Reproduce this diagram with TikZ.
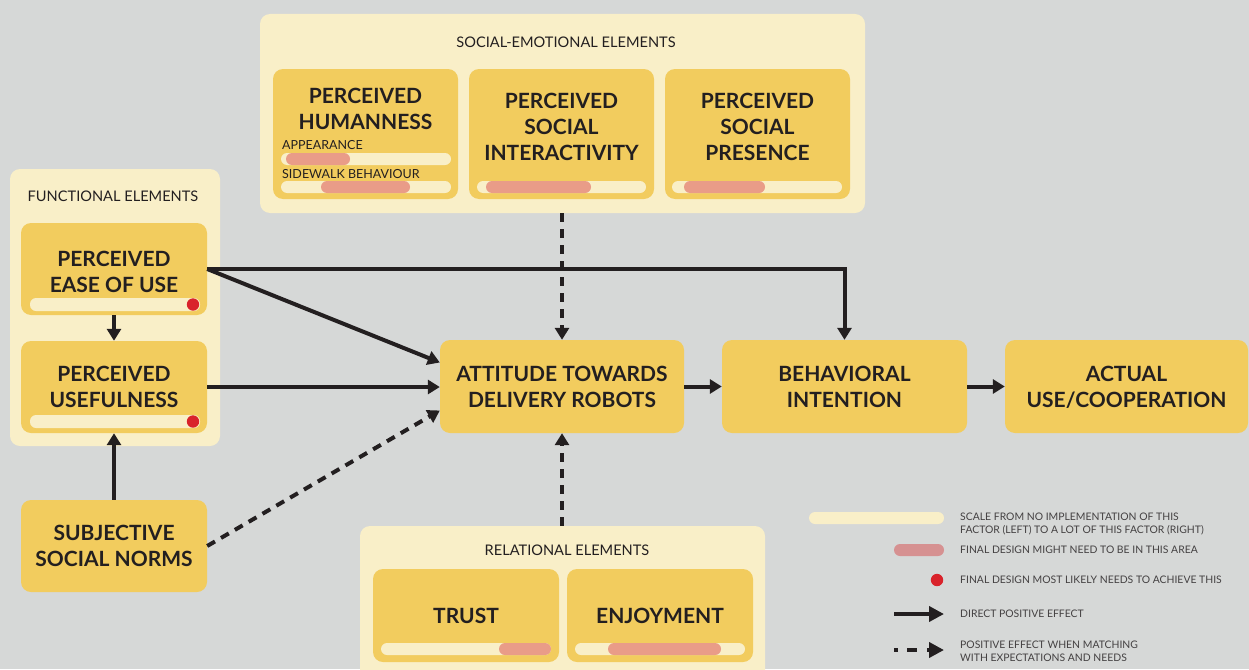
\documentclass[tikz,border=0pt]{standalone}
\usepackage{fontspec}
\setmainfont{Lato}
\usetikzlibrary{arrows.meta}
\definecolor{bg}{HTML}{D6D8D7}
\definecolor{cream}{HTML}{F9EFC8}
\definecolor{ybox}{HTML}{F2CC5E}
\definecolor{pinkbar}{HTML}{E99C88}
\definecolor{legpink}{HTML}{D69191}
\definecolor{reddot}{HTML}{D9232B}
\definecolor{ink}{HTML}{231F20}
\begin{document}
\begin{tikzpicture}[x=1pt,y=-1pt,
  group/.style={fill=cream, rounded corners=10pt, inner sep=0pt, draw=none},
  box/.style={fill=ybox, rounded corners=10pt, inner sep=0pt, align=center, text=ink,
    font=\bfseries\fontsize{21}{26}\selectfont},
  boxtext/.style={inner sep=0pt, align=center, text=ink, font=\bfseries\fontsize{21}{26}\selectfont},
  grouptitle/.style={inner sep=0pt, text=ink, font=\fontsize{14.6}{17}\selectfont},
  sublabel/.style={inner sep=0pt, anchor=west, text=ink, font=\fontsize{12.5}{15}\selectfont},
  legtext/.style={inner sep=0pt, anchor=west, align=left, text=ink!85, font=\fontsize{10.4}{13}\selectfont},
  scalebar/.style={fill=cream, rounded corners=6pt},
  areabar/.style={fill=pinkbar, rounded corners=6pt},
  effect/.style={draw=ink, line width=4pt, -{Triangle[width=14pt,length=12pt]}},
  expect/.style={effect, dash pattern=on 9pt off 7pt},
]
\fill[bg] (0,0) rectangle (1249,669);
\useasboundingbox (0,0) rectangle (1249,669);
\clip (0,0) rectangle (1249,669);

% groups
\node[group, minimum width=605pt, minimum height=199pt] (segrp) at (562.5,113.5) {};
\node[group, minimum width=210pt, minimum height=277pt] (fngrp) at (115,307.5) {};
\node[group, minimum width=405pt, minimum height=170pt] (rlgrp) at (562.5,611) {};
\node[grouptitle] (setitle) at (566,42) {SOCIAL-EMOTIONAL ELEMENTS};
\node[grouptitle] (fntitle) at (113,196) {FUNCTIONAL ELEMENTS};
\node[grouptitle] (rltitle) at (567,550) {RELATIONAL ELEMENTS};

% social-emotional boxes
\node[box, minimum width=185pt, minimum height=130pt] (hum) at (365.5,134) {};
\node[box, minimum width=185pt, minimum height=130pt] (inter) at (561.5,134) {};
\node[box, minimum width=185pt, minimum height=130pt] (pres) at (757.5,134) {};
\node[boxtext] (humt) at (365.5,109) {PERCEIVED\\HUMANNESS};
\node[boxtext] (intert) at (561.5,127) {PERCEIVED\\SOCIAL\\INTERACTIVITY};
\node[boxtext] (prest) at (757.5,127) {PERCEIVED\\SOCIAL\\PRESENCE};
\node[sublabel] (appl) at (282,145) {APPEARANCE};
\node[sublabel] (sidel) at (282,174.5) {SIDEWALK BEHAVIOUR};
\fill[scalebar] (281,153) rectangle (451,165);
\fill[areabar] (286,153) rectangle (350,165);
\fill[scalebar] (281,181) rectangle (451,193);
\fill[areabar] (321,181) rectangle (410,193);
\fill[scalebar] (477,181) rectangle (646,193);
\fill[areabar] (486,181) rectangle (591,193);
\fill[scalebar] (672,181) rectangle (842,193);
\fill[areabar] (684,181) rectangle (765,193);

% functional boxes
\node[box, minimum width=186pt, minimum height=92pt] (ease) at (114,269) {\rule{0pt}{21pt}PERCEIVED\\EASE OF USE};
\node[box, minimum width=186pt, minimum height=92pt] (use) at (114,387) {PERCEIVED\\USEFULNESS};
\fill[scalebar] (30,298) rectangle (200,311);
\fill[reddot] (193,304.5) circle (6.2);
\fill[scalebar] (30,415) rectangle (200,428);
\fill[reddot] (193,421.5) circle (6.2);

\node[box, minimum width=186pt, minimum height=92pt] (norms) at (114,546) {SUBJECTIVE\\SOCIAL NORMS};

% main chain
\node[box, minimum width=244pt, minimum height=93pt] (att) at (562,386.5) {\rule{0pt}{17pt}ATTITUDE TOWARDS\\DELIVERY ROBOTS};
\node[box, minimum width=245pt, minimum height=93pt] (beh) at (844.5,386.5) {\rule{0pt}{17pt}BEHAVIORAL\\INTENTION};
\node[box, minimum width=243pt, minimum height=93pt] (act) at (1126.5,386.5) {\rule{0pt}{17pt}ACTUAL\\USE/COOPERATION};

% relational boxes
\node[box, minimum width=186pt, minimum height=93pt] (trust) at (466,615.5) {TRUST};
\node[box, minimum width=186pt, minimum height=93pt] (enj) at (660,615.5) {ENJOYMENT};
\fill[scalebar] (381,643) rectangle (551,655);
\fill[areabar] (499,643) rectangle (551,655);
\fill[scalebar] (575,643) rectangle (745,655);
\fill[areabar] (608,643) rectangle (721,655);

% connectors
\draw[effect] (ease.south) -- (use.north);
\draw[effect] (norms.north) -- (use.south);
\draw[effect] (ease.east) -- ([yshift=24pt]att.west);
\draw[effect] (ease.east) -| (beh.north);
\draw[effect] (use.east) -- (use.east -| att.west);
\draw[expect] (norms.east) -- ([yshift=-24pt]att.west);
\draw[expect] (segrp.south -| att.north) -- (att.north);
\draw[expect] (rlgrp.north -| att.south) -- (att.south);
\draw[effect] (att.east) -- (beh.west);
\draw[effect] (beh.east) -- (act.west);

% legend
\fill[scalebar] (809,512) rectangle (944,524);
\fill[legpink, rounded corners=6pt] (894,544) rectangle (944,556);
\fill[reddot] (937,580) circle (6.2);
\coordinate (lsa) at (894,614);
\coordinate (lsb) at (944,614);
\coordinate (lda) at (894,650);
\coordinate (ldb) at (944,650);
\draw[draw=ink, line width=4pt, -{Triangle[width=15pt,length=15pt]}] (lsa) -- (lsb);
\draw[draw=ink, line width=4pt, dash pattern=on 4pt off 9pt on 10pt off 10pt, -{Triangle[width=15pt,length=15pt]}] (lda) -- (ldb);
\node[legtext] (lt1) at (960,523.5) {SCALE FROM NO IMPLEMENTATION OF THIS\\FACTOR (LEFT) TO A LOT OF THIS FACTOR (RIGHT)};
\node[legtext] (lt2) at (960,550) {FINAL DESIGN MIGHT NEED TO BE IN THIS AREA};
\node[legtext] (lt3) at (960,580) {FINAL DESIGN MOST LIKELY NEEDS TO ACHIEVE THIS};
\node[legtext] (lt4) at (960,614) {DIRECT POSITIVE EFFECT};
\node[legtext] (lt5) at (960,651.5) {POSITIVE EFFECT WHEN MATCHING\\WITH EXPECTATIONS AND NEEDS};
\end{tikzpicture}
\end{document}
